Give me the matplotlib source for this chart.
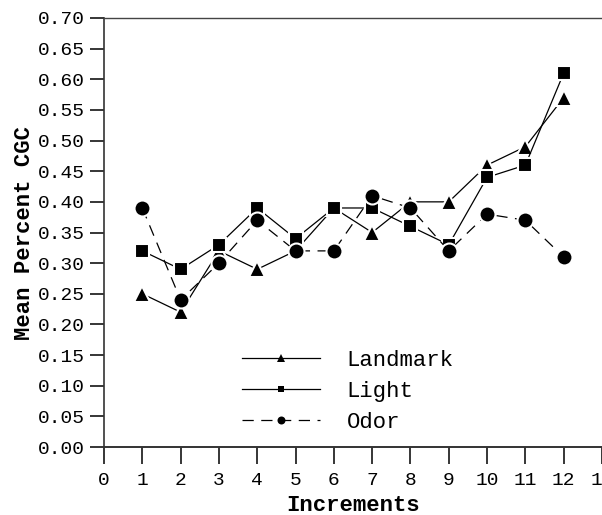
import numpy as np
import matplotlib
matplotlib.use("Agg")
import matplotlib.pyplot as plt

# values
increments = [1, 2, 3, 4, 5, 6, 7, 8, 9, 10, 11, 12]
landmark = [0.25, 0.22, 0.32, 0.29, 0.32, 0.39, 0.35, 0.40, 0.40, 0.46, 0.49, 0.57]
light = [0.32, 0.29, 0.33, 0.39, 0.34, 0.39, 0.39, 0.36, 0.33, 0.44, 0.46, 0.61]
odor = [0.39, 0.24, 0.30, 0.37, 0.32, 0.32, 0.41, 0.39, 0.32, 0.38, 0.37, 0.31]

x_ticks = list(range(0, 14))
y_ticks = [i * 0.05 for i in range(15)]

plt.rcParams['font.family'] = ['Liberation Mono', 'DejaVu Sans Mono']

fig = plt.figure(figsize=(6.02, 5.15), dpi=100)
ax = fig.add_axes([104 / 602, 68 / 515, 498 / 602, 429 / 515])

# white marker edges leave the small gaps where lines meet markers
ax.plot(increments, landmark, color='black', lw=0.9, marker='^', markersize=12,
        markeredgecolor='white', markeredgewidth=1.5, label='Landmark', zorder=3)
ax.plot(increments, light, color='black', lw=0.9, marker='s', markersize=9.5,
        markeredgecolor='white', markeredgewidth=1.5, label='Light', zorder=3)
ax.plot(increments, odor, color='black', lw=0.9, marker='o', markersize=11.5,
        markeredgecolor='white', markeredgewidth=1.5, dashes=(9, 6),
        label='Odor', zorder=3)

ax.set_xlim(0, 13)
ax.set_ylim(0, 0.70)
ax.set_xticks(x_ticks)
ax.set_yticks(y_ticks)
ax.set_yticklabels([f"{v:.2f}" for v in y_ticks])
ax.tick_params(axis='both', direction='out', labelsize=14, colors='black')
ax.tick_params(axis='y', length=10, width=1.1, pad=4)
ax.tick_params(axis='x', length=12, width=1.1, pad=6)

ax.spines['right'].set_visible(False)
ax.spines['top'].set_color('#444444')
ax.spines['top'].set_linewidth(1.0)
ax.spines['left'].set_color('#333333')
ax.spines['left'].set_linewidth(1.2)
ax.spines['bottom'].set_color('#333333')
ax.spines['bottom'].set_linewidth(1.4)

ax.set_xlabel('Increments', fontsize=16, fontweight='bold', labelpad=4)
ax.set_ylabel('Mean Percent CGC', fontsize=16, fontweight='bold', labelpad=2)

leg = ax.legend(loc='upper left', bbox_to_anchor=(222 / 602, 1 - 330 / 515),
                bbox_transform=fig.transFigure, frameon=False, fontsize=16,
                handlelength=3.5, handletextpad=1.2, labelspacing=0.45,
                markerscale=0.5)
for h in leg.legend_handles:
    h.set_markeredgewidth(0)

fig.savefig('out.png', dpi=100)
